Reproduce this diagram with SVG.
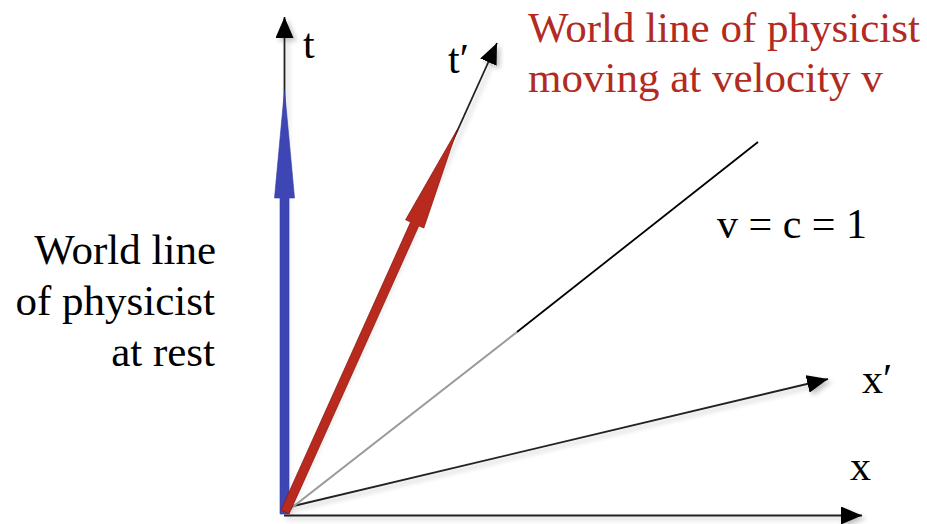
<svg xmlns="http://www.w3.org/2000/svg" width="927" height="524" viewBox="0 0 927 524">
  <defs>
    <style>
      .lbl { font-family: 'Liberation Serif', 'DejaVu Serif', serif; font-size: 42px; fill: #000; }
      .big { font-size: 43px; }
      .red { fill: #b32a1f; }
      .axis { fill: none; stroke: #222; stroke-width: 1.8; }
      .sh { filter: url(#shadow); }
    </style>
    <marker id="arr" viewBox="0 0 21 18" refX="21" refY="9" markerWidth="21" markerHeight="18" markerUnits="userSpaceOnUse" orient="auto">
      <path d="M0,0 L21,9 L0,18 Z" fill="#000"/>
    </marker>
    <filter id="shadow" filterUnits="userSpaceOnUse" x="0" y="0" width="927" height="524">
      <feGaussianBlur in="SourceAlpha" stdDeviation="2.5"/>
      <feOffset dx="3" dy="3" result="b"/>
      <feComponentTransfer><feFuncA type="linear" slope="0.25"/></feComponentTransfer>
      <feMerge><feMergeNode/><feMergeNode in="SourceGraphic"/></feMerge>
    </filter>
  </defs>
  <rect width="927" height="524" fill="#fff"/>

  <g id="connectors">
    <line id="t-axis" class="axis sh" x1="284.5" y1="514" x2="284.5" y2="17" stroke="#444" marker-end="url(#arr)"/>
    <line id="x-axis" class="axis sh" x1="284" y1="515.5" x2="862" y2="515.5" stroke="#333" marker-end="url(#arr)"/>
    <line id="xp-axis" class="axis sh" x1="285" y1="508" x2="828" y2="379" marker-end="url(#arr)"/>
    <line id="tp-axis" class="axis sh" x1="285" y1="512" x2="497" y2="43" stroke="#444" marker-end="url(#arr)"/>
    <g id="light-line">
      <line x1="285" y1="513" x2="517" y2="332" stroke="#9a9a9a" stroke-width="2"/>
      <line x1="517" y1="332" x2="758" y2="142" stroke="#000" stroke-width="1.8"/>
    </g>
  </g>

  <g id="rest-worldline">
    <polygon points="280,514 280,198 274.5,198 284.5,90 294.5,198 289,198 289,514" fill="#3d46b4" stroke="#333d9e" stroke-width="0.6"/>
  </g>

  <g id="moving-worldline">
    <polygon points="280.9,510.2 410.6,222.1 405.6,219.8 457,130 423.8,228 418.8,225.8 289.1,513.8" fill="#b8291e" stroke="#8e1c14" stroke-width="0.8"/>
  </g>

  <g id="labels" font-family="'Liberation Serif', 'DejaVu Serif', serif" font-size="42">
    <text class="lbl" id="lbl-t" x="303" y="58">t</text>
    <text class="lbl" id="lbl-tp" x="448" y="73">t′</text>
    <text class="lbl" id="lbl-x" x="850" y="480">x</text>
    <text class="lbl" id="lbl-xp" x="862" y="393">x′</text>
    <text class="lbl" id="lbl-c" x="717" y="238">v = c = 1</text>
    <g id="lbl-moving">
      <text class="lbl big red" x="528" y="42">World line of physicist</text>
      <text class="lbl big red" x="528" y="92">moving at velocity v</text>
    </g>
    <g id="lbl-rest" text-anchor="end">
      <text class="lbl big" x="216" y="264">World line</text>
      <text class="lbl big" x="215" y="315">of physicist</text>
      <text class="lbl big" x="215" y="366">at rest</text>
    </g>
  </g>
</svg>
